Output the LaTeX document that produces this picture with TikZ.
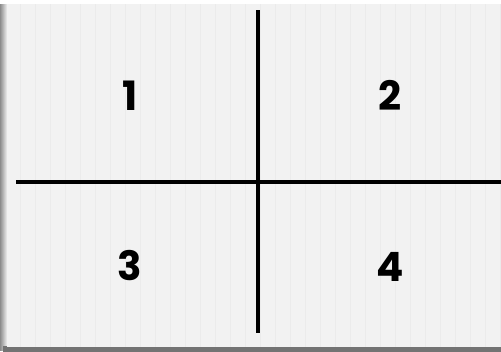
\documentclass[tikz,border=0pt]{standalone}
\usepackage{fontspec}
\setmainfont{Poppins}
\usepackage{tikz}
\usetikzlibrary{positioning}

\begin{document}
\begin{tikzpicture}[x=0.02cm,y=-0.02cm,
    quadnum/.style={font=\fontsize{23}{23}\selectfont\bfseries, text=black},
    crossline/.style={line width=2.7pt, black}]
  \useasboundingbox (0,0) rectangle (501,352);
  % Shadow round the sheet
  \shade[left color=black!45, right color=white] (0,4) rectangle (8,350);
  \fill[black!55] (3,346) rectangle (501,352);
  % The sheet
  \fill[black!5] (7,4) rectangle (501,347);
  % Faint rulings
  \foreach \x in {20,35,...,500}
    \draw[black!8, line width=0.4pt] (\x,4) -- (\x,347);
  % The cross
  \draw[crossline] (16,182) -- (501,182);
  \draw[crossline] (258,10) -- (258,333);
  % Labels
  \node[quadnum] (one) at (130,96) {1};
  \node[quadnum] (two) at (390,95) {2};
  \node[quadnum] (three) at (130,266) {3};
  \node[quadnum] (four) at (390,267) {4};
\end{tikzpicture}
\end{document}
